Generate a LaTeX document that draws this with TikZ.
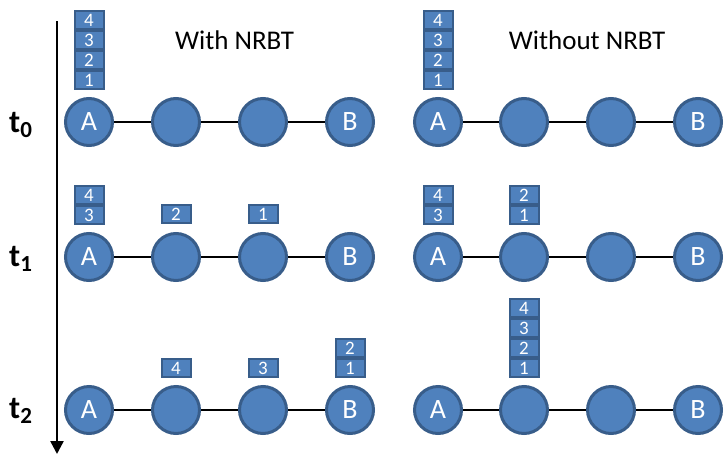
\documentclass[tikz,border=0pt]{standalone}
\usepackage{fontspec}
\setmainfont{Carlito}
\usetikzlibrary{arrows.meta}
\definecolor{nodefill}{HTML}{4F81BD}
\definecolor{nodeedge}{HTML}{385D8A}
\tikzset{
  hop/.style={circle, fill=nodefill, draw=nodeedge, line width=3pt, minimum size=47pt, inner sep=0pt, text=white, font=\fontsize{28}{28}\selectfont},
  pkt/.style={rectangle, fill=nodefill, draw=nodeedge, line width=2pt, minimum width=29pt, minimum height=18pt, inner sep=0pt, text=white, font=\fontsize{19}{19}\selectfont},
  link/.style={line width=1.3pt, black},
  title/.style={anchor=base, font=\fontsize{27}{27}\selectfont},
  tlab/.style={anchor=base west, inner sep=0pt, font=\fontsize{32}{32}\selectfont\bfseries}
}
\newcommand{\tsub}[1]{t\raisebox{-5pt}{\fontsize{23}{23}\selectfont #1}}
\begin{document}
\begin{tikzpicture}[x=1pt,y=-1pt]
\path[use as bounding box] (0,0) rectangle (725,455);
% axis
\coordinate (axtop) at (57,21);
\coordinate (axbot) at (57,454);
\draw[line width=2.5pt, -{Triangle[width=13pt,length=13pt]}] (axtop) -- (axbot);
% titles
\node[title] (tw) at (234.5,49) {With NRBT};
\node[title] (two) at (587,49) {Without NRBT};
% time labels
\node[tlab] (l0) at (9,132) {\tsub{0}};
\node[tlab] (l1) at (9,266) {\tsub{1}};
\node[tlab] (l2) at (9,418) {\tsub{2}};
% rows of hops
\foreach \r/\y in {0/122,1/257,2/410}{
  \node[hop] (La\r) at (89,\y) {A};
  \node[hop] (Lb\r) at (176,\y) {};
  \node[hop] (Lc\r) at (263,\y) {};
  \node[hop] (Ld\r) at (350,\y) {B};
  \node[hop] (Ra\r) at (438,\y) {A};
  \node[hop] (Rb\r) at (524,\y) {};
  \node[hop] (Rc\r) at (611,\y) {};
  \node[hop] (Rd\r) at (698,\y) {B};
  \draw[link] (La\r) -- (Lb\r) (Lb\r) -- (Lc\r) (Lc\r) -- (Ld\r);
  \draw[link] (Ra\r) -- (Rb\r) (Rb\r) -- (Rc\r) (Rc\r) -- (Rd\r);
}
% t0 packets
\node[pkt] (p01) at (89,80) {1};
\node[pkt] (p02) at (89,60) {2};
\node[pkt] (p03) at (89,40) {3};
\node[pkt] (p04) at (89,20) {4};
\node[pkt] (q01) at (438,80) {1};
\node[pkt] (q02) at (438,60) {2};
\node[pkt] (q03) at (438,40) {3};
\node[pkt] (q04) at (438,20) {4};
% t1 packets
\node[pkt] (p13) at (89,215) {3};
\node[pkt] (p14) at (89,195) {4};
\node[pkt] (p12) at (176,214) {2};
\node[pkt] (p11) at (263,214) {1};
\node[pkt] (q13) at (438,215) {3};
\node[pkt] (q14) at (438,195) {4};
\node[pkt] (q11) at (524,215) {1};
\node[pkt] (q12) at (524,195) {2};
% t2 packets
\node[pkt] (p24) at (176,368) {4};
\node[pkt] (p23) at (263,368) {3};
\node[pkt] (p21) at (350,368) {1};
\node[pkt] (p22) at (350,348) {2};
\node[pkt] (q21) at (524,368) {1};
\node[pkt] (q22) at (524,348) {2};
\node[pkt] (q23) at (524,328) {3};
\node[pkt] (q24) at (524,308) {4};
\end{tikzpicture}
\end{document}
